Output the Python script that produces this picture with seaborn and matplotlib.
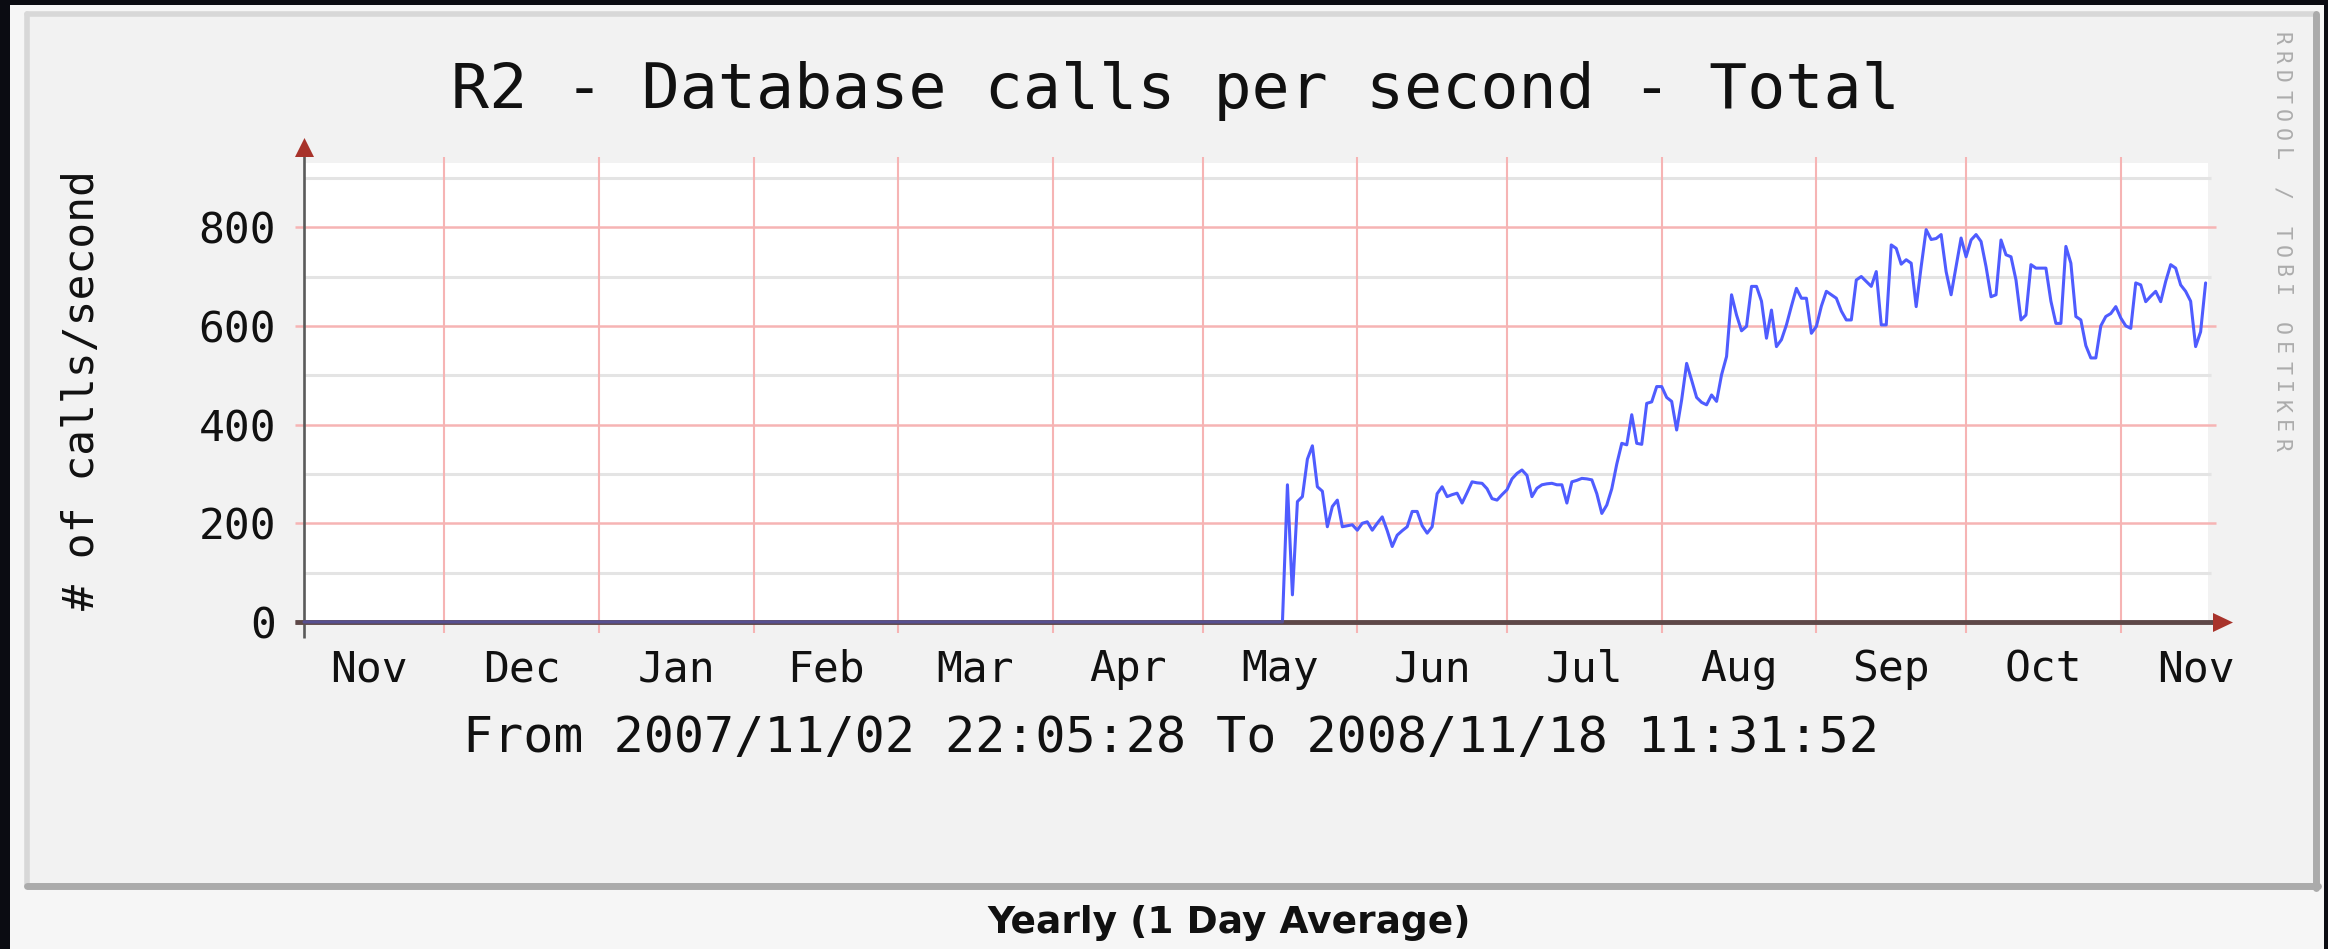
import pandas as pd
import matplotlib
matplotlib.use("Agg")
import matplotlib.pyplot as plt
from matplotlib.patches import Rectangle, Polygon
from matplotlib.lines import Line2D
import seaborn as sns

# ---- texts -------------------------------------------------------------
TITLE = "R2 - Database calls per second - Total"
Y_LABEL = "# of calls/second"
PERIOD_TEXT = "From 2007/11/02 22:05:28 To 2008/11/18 11:31:52"
FOOTER = "Yearly (1 Day Average)"
WATERMARK = "RRDTOOL / TOBI OETIKER"

# ---- data ---------------------------------------------------------------
range_start = "2007-11-02 22:05:28"
range_end = "2008-11-18 11:31:52"
first_day = "2008-05-16"          # first daily average in the list below
calls_per_second = [
    0, 0, 278, 55, 244, 254, 330, 357, 274, 265, 193, 234, 247, 193, 195, 197,      # May 16-31
    186, 200, 203, 186, 200, 213, 185, 153, 176, 185, 193, 224, 224, 195, 180,      # Jun 1-15
    193, 260, 274, 254, 258, 261, 241, 262, 284, 282, 281, 270, 250, 247, 258,      # Jun 16-30
    268, 290, 301, 308, 297, 254, 271, 278, 280, 281, 278, 278, 241, 284, 287,      # Jul 1-15
    291, 290, 288, 260, 220, 237, 270, 320, 362, 359, 420, 362, 360, 443, 446, 477, # Jul 16-31
    477, 455, 447, 389, 450, 524, 490, 455, 445, 440, 460, 447, 501, 538, 663,      # Aug 1-15
    622, 590, 599, 680, 680, 650, 575, 632, 558, 572, 602, 640, 676, 656, 656, 585, # Aug 16-31
    599, 640, 670, 663, 656, 630, 612, 612, 693, 700, 690, 680, 710, 602, 602,      # Sep 1-15
    764, 757, 725, 734, 727, 639, 720, 795, 775, 777, 785, 710, 663, 720, 778,      # Sep 16-30
    740, 774, 785, 771, 720, 659, 663, 774, 744, 740, 693, 612, 622, 724, 717,      # Oct 1-15
    717, 717, 650, 605, 605, 761, 727, 619, 612, 560, 535, 535, 600, 619, 625, 639, # Oct 16-31
    616, 600, 595, 687, 683, 649, 660, 670, 649, 690, 724, 717, 683, 670, 650,      # Nov 1-15
    558, 588, 687,                                                                  # Nov 16-18
]
y_major = [0, 200, 400, 600, 800]
y_minor = [100, 300, 500, 700, 900]
month_labels = ["Nov", "Dec", "Jan", "Feb", "Mar", "Apr", "May",
                "Jun", "Jul", "Aug", "Sep", "Oct", "Nov"]
first_month = "2007-11-01"

# ---- colours ------------------------------------------------------------
LINE_BLUE = "#4f5cff"
MAJOR_RED = "#f6b4b4"
MINOR_GRAY = "#e4e4e4"
AXIS_DARK = "#5e4848"
ARROW_RED = "#a8332b"
CANVAS = "#f2f2f2"

W, H = 2328, 949
sns.set_theme(style="white")
plt.rcParams["font.family"] = ["DejaVu Sans Mono"]

fig = plt.figure(figsize=(W / 100, H / 100), dpi=100)
fig.patch.set_facecolor("#0b0c12")


def fx(x):
    return x / W


def fy(y):
    return 1 - y / H


# page and framed canvas
fig.patches.append(Rectangle((fx(10), 0), fx(2324 - 10), (H - 5) / H,
                             transform=fig.transFigure, facecolor="#f6f6f6",
                             edgecolor="none", zorder=-10))
fig.patches.append(Rectangle((fx(27), fy(886)), fx(2316 - 27), (886 - 14) / H,
                             transform=fig.transFigure, facecolor=CANVAS,
                             edgecolor="none", zorder=-9))
for (x0, y0, x1, y1, c, lw) in [
    (27, 14, 2316, 14, "#d8d8d8", 4.0),
    (27, 14, 27, 886, "#d8d8d8", 4.0),
    (2316, 14, 2316, 888, "#ababab", 5.0),
    (27, 886, 2318, 886, "#ababab", 5.0),
]:
    fig.lines.append(Line2D([fx(x0), fx(x1)], [fy(y0), fy(y1)],
                            transform=fig.transFigure, color=c, lw=lw, zorder=-8))

# plotting area
ax = fig.add_axes([fx(304), fy(622), fx(2208 - 304), (622 - 163) / H])
ax.set_facecolor("white")
for s in ax.spines.values():
    s.set_visible(False)

t0 = pd.Timestamp(range_start)
t1 = pd.Timestamp(range_end)
ax.set_xlim(t0, t1)
ax.set_ylim(0, 930)

days = pd.date_range(first_day, periods=len(calls_per_second), freq="D")
df = pd.DataFrame({
    "time": [t0] + list(days),
    "calls": [0] + calls_per_second,
})

# grid lines slightly overhanging the white area, like rrdtool draws them
pad_l = pd.Timedelta(days=9 / 4.987)
pad_r = pd.Timedelta(days=8 / 4.987)
ax.hlines(y_minor, t0, t1 + pd.Timedelta(days=3 / 4.987), colors=MINOR_GRAY,
          lw=2.2, zorder=1, clip_on=False)
ax.hlines(y_major[1:], t0 - pad_l, t1 + pad_r, colors=MAJOR_RED,
          lw=1.8, zorder=2, clip_on=False)
month_starts = pd.date_range(first_month, periods=len(month_labels) + 1, freq="MS")
grid_months = [m for m in month_starts if t0 < m < t1]
ax.vlines(grid_months, -23, 943, colors=MAJOR_RED, lw=1.5, zorder=2, clip_on=False)

# axes with arrows; the x axis is laid over the data again, half transparent,
# so the flat zero stretch takes the muted purple of the original renderer
x_axis = [t0 - pad_l, t1 + pd.Timedelta(days=10 / 4.987)]
ax.plot(x_axis, [0, 0], color=AXIS_DARK, lw=3.4, zorder=3, clip_on=False,
        solid_capstyle="butt")
ax.plot(x_axis, [0, 0], color=AXIS_DARK, lw=3.4, alpha=0.6, zorder=6,
        clip_on=False, solid_capstyle="butt")
ax.plot([t0, t0], [-33, 950], color="#5a5a5a", lw=1.9, zorder=3, clip_on=False,
        solid_capstyle="butt")

sns.lineplot(data=df, x="time", y="calls", ax=ax, color=LINE_BLUE,
             linewidth=2.2, zorder=5, clip_on=False)

fig.patches.append(Polygon([(fx(2213), fy(613)), (fx(2213), fy(632)), (fx(2233), fy(622.5))],
                           closed=True, transform=fig.transFigure,
                           facecolor=ARROW_RED, edgecolor="none", zorder=10))
fig.patches.append(Polygon([(fx(295), fy(157)), (fx(314), fy(157)), (fx(304.5), fy(138))],
                           closed=True, transform=fig.transFigure,
                           facecolor=ARROW_RED, edgecolor="none", zorder=10))

# ticks
label_pos = [month_starts[i] + (month_starts[i + 1] - month_starts[i]) / 2
             for i in range(len(month_labels))]
ax.set_xticks(label_pos)
ax.set_xticklabels(month_labels)
ax.set_yticks(y_major)
ax.set_yticklabels([str(v) for v in y_major])
ax.tick_params(axis="x", length=0, pad=19, labelsize=31, colors="#111111")
ax.tick_params(axis="y", length=0, pad=20, labelsize=31, colors="#111111")
ax.set_xlabel("")
ax.set_ylabel("")
ax.grid(False)

# texts
fig.text(fx(1175), fy(91), TITLE, ha="center", va="center", fontsize=45.5,
         color="#111111")
fig.text(fx(1171), fy(738), PERIOD_TEXT, ha="center", va="center", fontsize=36,
         color="#111111")
fig.text(fx(82), fy(390), Y_LABEL, ha="center", va="center", rotation=90,
         fontsize=31, color="#111111")
fig.text(fx(1229), fy(923), FOOTER, ha="center", va="center", fontsize=27,
         fontweight="bold", family=["DejaVu Sans"], color="#111111")
for i, ch in enumerate(WATERMARK):
    if ch != " ":
        fig.text(fx(2281), fy(38 + i * 19.4), ch, ha="center", va="center",
                 rotation=-90, fontsize=15.5, color="#acacac")

fig.savefig("out.png", dpi=100, facecolor=fig.get_facecolor())
